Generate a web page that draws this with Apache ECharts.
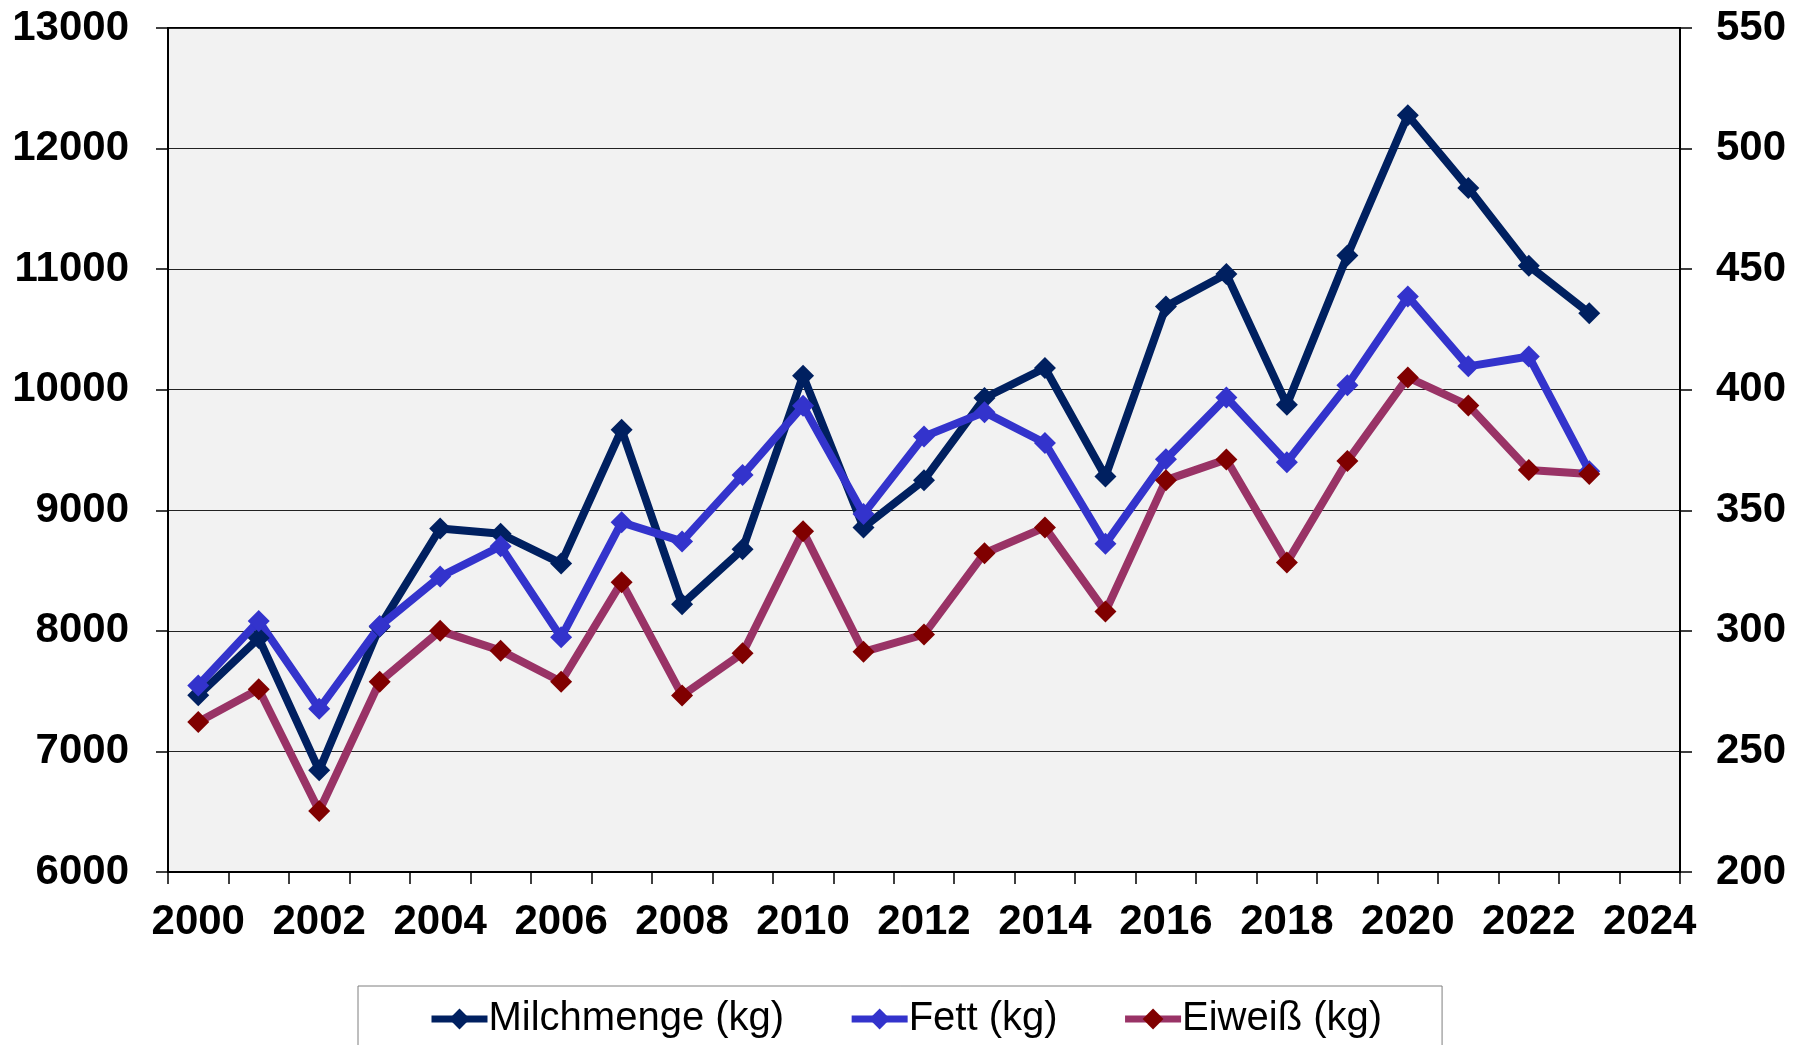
<!DOCTYPE html>
<html>
<head>
<meta charset="utf-8">
<script src="https://cdn.jsdelivr.net/npm/echarts@6/dist/echarts.min.js"></script>
<style>
html,body{margin:0;padding:0;background:#fff;}
#chart{width:1794px;height:1045px;}
</style>
</head>
<body>
<div id="chart"></div>
<script>
var years = ['2000','2001','2002','2003','2004','2005','2006','2007','2008','2009','2010','2011','2012','2013','2014','2015','2016','2017','2018','2019','2020','2021','2022','2023','2024'];
var milchmenge = [7465, 7940, 6843, 8035, 8849, 8805, 8559, 9668, 8220, 8676, 10116, 8858, 9250, 9931, 10180, 9280, 10691, 10959, 9876, 11113, 12276, 11674, 11028, 10635];
var fett = [277.3, 304.1, 267.7, 302.0, 322.5, 335.1, 297.3, 345.0, 337.1, 364.6, 393.3, 348.5, 380.6, 390.7, 377.9, 336.1, 371.2, 396.8, 369.9, 401.8, 438.7, 409.7, 413.8, 366.2];
var eiweiss = [262.2, 275.8, 225.3, 278.9, 300.0, 291.8, 278.9, 320.2, 273.2, 290.7, 341.3, 291.3, 298.5, 332.2, 342.9, 308.0, 362.5, 371.1, 328.3, 370.4, 405.1, 393.5, 366.7, 365.0];
var seriesNames = ['Milchmenge (kg)', 'Fett (kg)', 'Eiweiß (kg)'];

var FONT = '"Liberation Sans", Arial, sans-serif';
var chart = echarts.init(document.getElementById('chart'), null, {renderer: 'canvas'});
var axisLabelStyle = {color: '#000', fontFamily: FONT, fontWeight: 'bold', fontSize: 42};
function plain(v) { return String(v); }

chart.setOption({
  animation: false,
  backgroundColor: '#ffffff',
  grid: {
    left: 168, right: 114, top: 28, bottom: 173,
    show: true, backgroundColor: '#F2F2F2', borderColor: '#000', borderWidth: 2
  },
  legend: {
    left: 358, top: 986,
    padding: [13, 60, 60, 70],
    borderColor: '#7f7f7f', borderWidth: 1,
    itemWidth: 56, itemHeight: 26, itemGap: 64,
    lineStyle: {width: 7},
    textStyle: {color: '#000', fontFamily: FONT, fontSize: 40, padding: [0, 0, 0, -4]},
    data: seriesNames
  },
  xAxis: {
    type: 'category',
    data: years,
    boundaryGap: true,
    axisLine: {show: true, lineStyle: {color: '#000', width: 2}},
    axisTick: {show: true, interval: 0, length: 12, lineStyle: {color: '#000', width: 1.5}},
    axisLabel: Object.assign({interval: 1, margin: 29}, axisLabelStyle),
    splitLine: {show: false}
  },
  yAxis: [
    {
      type: 'value', min: 6000, max: 13000, interval: 1000, position: 'left',
      axisLine: {show: true, lineStyle: {color: '#000', width: 2}},
      axisTick: {show: true, length: 12, lineStyle: {color: '#000', width: 1.5}},
      axisLabel: Object.assign({margin: 39, formatter: plain}, axisLabelStyle),
      splitLine: {show: true, lineStyle: {color: '#222', width: 1.2}}
    },
    {
      type: 'value', min: 200, max: 550, interval: 50, position: 'right',
      axisLine: {show: true, lineStyle: {color: '#000', width: 2}},
      axisTick: {show: true, length: 12, lineStyle: {color: '#000', width: 1.5}},
      axisLabel: Object.assign({margin: 36, formatter: plain}, axisLabelStyle),
      splitLine: {show: false}
    }
  ],
  series: [
    {
      name: seriesNames[0], type: 'line', yAxisIndex: 0, data: milchmenge,
      symbol: 'diamond', symbolSize: 22, showAllSymbol: true,
      lineStyle: {color: '#002060', width: 8},
      itemStyle: {color: '#002060'}
    },
    {
      name: seriesNames[1], type: 'line', yAxisIndex: 1, data: fett,
      symbol: 'diamond', symbolSize: 22, showAllSymbol: true,
      lineStyle: {color: '#3333CC', width: 8},
      itemStyle: {color: '#3333CC'}
    },
    {
      name: seriesNames[2], type: 'line', yAxisIndex: 1, data: eiweiss,
      symbol: 'diamond', symbolSize: 22, showAllSymbol: true,
      lineStyle: {color: '#993366', width: 8},
      itemStyle: {color: '#800000'}
    }
  ]
});
</script>
</body>
</html>
